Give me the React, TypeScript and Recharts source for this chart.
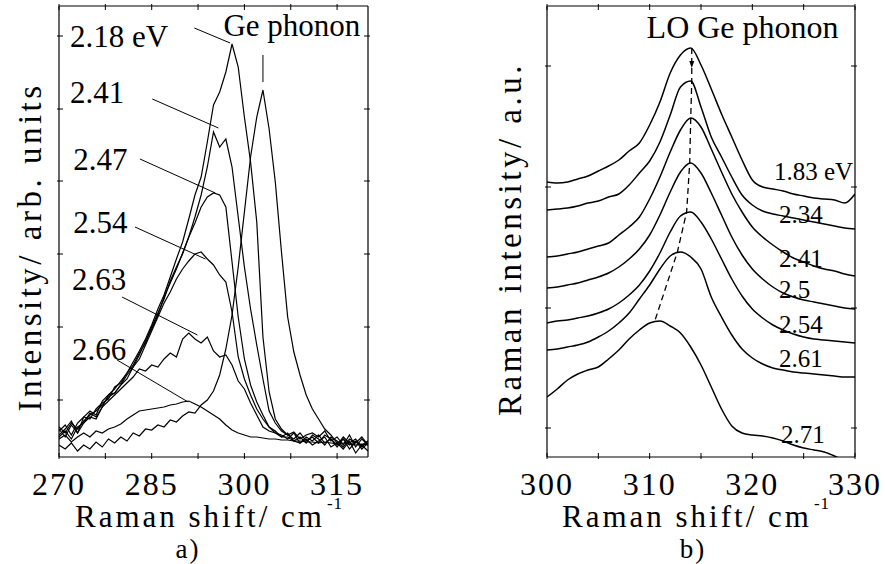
import { LineChart, Line, XAxis, YAxis, ReferenceLine, ReferenceDot } from "recharts";

const FONT = "'Liberation Serif', 'Times New Roman', serif";

// ---- panel a) : Raman shift (cm-1) vs intensity (arb. units)
const shiftA = [270, 271, 272, 273, 274, 275, 276, 277, 278, 279, 280, 281, 282, 283, 284, 285, 286, 287, 288, 289, 290, 291, 292, 293, 294, 295, 296, 297, 298, 299, 300, 301, 302, 303, 304, 305, 306, 307, 308, 309, 310, 311, 312, 313, 314, 315, 316, 317, 318, 319, 320];
const i218 = [28, 20, 32, 24, 40, 46, 42, 56, 62, 68, 76, 84, 95, 106, 118, 132, 148, 162, 180, 198, 215, 238, 262, 280, 315, 352, 365, 385, 413, 390, 340, 295, 235, 120, 65, 38, 28, 22, 25, 18, 22, 24, 20, 26, 16, 20, 12, 22, 10, 18, 12];
const i241 = [30, 24, 34, 28, 36, 42, 46, 52, 60, 64, 72, 82, 90, 102, 116, 128, 142, 160, 174, 188, 204, 220, 240, 262, 290, 325, 310, 318, 290, 240, 190, 148, 112, 78, 46, 34, 26, 22, 18, 24, 16, 20, 14, 22, 18, 12, 20, 14, 18, 10, 16];
const i247 = [26, 32, 22, 34, 40, 38, 48, 54, 58, 70, 74, 84, 92, 104, 114, 130, 144, 158, 176, 190, 203, 220, 234, 250, 260, 264, 262, 250, 195, 140, 98, 72, 55, 42, 30, 26, 20, 24, 16, 20, 14, 22, 18, 12, 20, 16, 10, 18, 14, 20, 12];
const i254 = [22, 28, 36, 24, 34, 44, 40, 50, 62, 64, 72, 78, 90, 98, 112, 126, 140, 154, 165, 178, 188, 196, 203, 205, 198, 192, 182, 175, 145, 100, 78, 62, 48, 38, 30, 24, 22, 18, 24, 14, 20, 16, 22, 14, 18, 10, 18, 12, 16, 8, 14];
const i263 = [20, 26, 18, 30, 34, 40, 38, 50, 56, 62, 68, 74, 80, 88, 86, 92, 90, 98, 104, 100, 118, 124, 118, 114, 120, 106, 100, 102, 92, 76, 68, 54, 42, 30, 26, 24, 20, 20, 16, 14, 18, 12, 16, 20, 10, 14, 18, 8, 15, 12, 16];
const i266 = [18, 22, 15, 20, 24, 20, 26, 24, 28, 30, 33, 38, 42, 46, 47, 48, 49, 50, 52, 53, 55, 56, 53, 50, 46, 42, 38, 32, 27, 24, 22, 20, 20, 19, 18, 18, 17, 17, 16, 16, 15, 15, 14, 15, 14, 13, 14, 13, 12, 13, 12];
const iGe = [12, 8, 14, 6, 12, 8, 15, 10, 18, 14, 20, 16, 24, 21, 28, 27, 32, 30, 37, 35, 41, 45, 44, 52, 57, 66, 82, 108, 142, 190, 245, 300, 340, 367, 328, 275, 205, 140, 105, 82, 62, 48, 38, 28, 22, 14, 8, 16, 4, 12, 6];

const ticksAX = [270, 277.5, 285, 292.5, 300, 307.5, 315];
const labelsAX = [270, 285, 300, 315];
const ticksAY = [57, 130, 203, 276, 348, 421];

const notesA = [
  { text: "2.18 eV", x: 271.8, y: 410, from: [291.9, 429], to: [297.7, 414] },
  { text: "2.41", x: 271.8, y: 354, from: [285.1, 358], to: [295.8, 329] },
  { text: "2.47", x: 272.3, y: 287, from: [283.1, 298], to: [295.3, 264] },
  { text: "2.54", x: 272.3, y: 224, from: [282.3, 230], to: [293.7, 198] },
  { text: "2.63", x: 272.1, y: 167, from: [280.2, 160], to: [292.4, 122] },
  { text: "2.66", x: 272.1, y: 97, from: [279.4, 97], to: [290.9, 55] },
];

// ---- panel b) : LO Ge phonon
const shiftB = [300, 301, 302, 303, 304, 305, 306, 307, 308, 309, 310, 311, 312, 313, 314, 315, 316, 317, 318, 319, 320, 321, 322, 323, 324, 325, 326, 327, 328, 329, 330];
const b183 = [275, 274, 275, 278, 281, 286, 291, 297, 306, 314, 332, 355, 384, 402, 409, 392, 368, 343, 320, 297, 277, 270, 268, 266, 263, 261, 259, 258, 257, 254, 263];
const b234 = [247, 248, 249, 251, 254, 256, 260, 263, 272, 284, 296, 315, 342, 370, 376, 350, 320, 300, 280, 262, 252, 246, 243, 241, 239, 237, 235, 233, 231, 229, 228];
const b241 = [200, 201, 203, 205, 208, 211, 214, 222, 230, 240, 258, 280, 305, 327, 339, 330, 308, 285, 263, 245, 230, 220, 212, 205, 199, 195, 191, 188, 186, 183, 181];
const b250 = [169, 170, 172, 174, 177, 180, 184, 190, 198, 208, 222, 242, 265, 285, 294, 284, 264, 242, 220, 202, 188, 178, 170, 164, 160, 157, 155, 153, 151, 149, 148];
const b254 = [134, 136, 137, 139, 141, 144, 148, 154, 162, 172, 186, 204, 225, 241, 245, 235, 218, 198, 178, 161, 148, 139, 132, 127, 123, 120, 118, 117, 116, 115, 114];
const b261 = [107, 108, 110, 112, 115, 120, 126, 134, 144, 158, 172, 188, 201, 205, 200, 188, 160, 140, 122, 108, 99, 93, 89, 87, 85, 84, 83, 82, 81, 80, 80];
const b271 = [60, 68, 77, 83, 87, 90, 98, 107, 118, 127, 134, 136, 131, 124, 110, 92, 70, 48, 31, 24, 22, 21, 19, 16, 12, 9, 7, 5, 1, -4, -8];

const peakShift = [314.1, 314.1, 314.0, 313.9, 313.6, 312.7, 310.5];
const peakHeight = [409, 376, 339, 294, 245, 205, 136];

const ticksBX = [300, 305, 310, 315, 320, 325, 330];
const labelsBX = [300, 310, 320, 330];
const ticksBY = [29, 149, 270, 391];

const notesB = [
  { text: "1.83 eV", x: 322.1, y: 277 },
  { text: "2.34", x: 322.6, y: 234 },
  { text: "2.41", x: 322.6, y: 190 },
  { text: "2.5", x: 322.6, y: 159 },
  { text: "2.54", x: 322.6, y: 124 },
  { text: "2.61", x: 322.6, y: 90 },
  { text: "2.71", x: 322.8, y: 14 },
];

const dataA = shiftA.map((x, i) => ({ x, e218: i218[i], e241: i241[i], e247: i247[i], e254: i254[i], e263: i263[i], e266: i266[i], ge: iGe[i] }));
const dataB = shiftB.map((x, i) => ({ x, b183: b183[i], b234: b234[i], b241: b241[i], b250: b250[i], b254: b254[i], b261: b261[i], b271: b271[i] }));
const peakLine = peakShift.map((x, i) => ({ x, p: peakHeight[i] }));

const TICK = 6;

function BottomTick({ x, y, payload, labels }: any) {
  return (
    <g>
      <line x1={x} x2={x} y1={y} y2={y - TICK} stroke="#000" />
      {labels.includes(payload.value) && (
        <text x={x} y={y + 36} textAnchor="middle" style={{ fontFamily: FONT, fontSize: 32, letterSpacing: 2 }} fill="#000">
          {payload.value}
        </text>
      )}
    </g>
  );
}
const TopTick = ({ x, y }: any) => <line x1={x} x2={x} y1={y} y2={y + TICK} stroke="#000" />;
const LeftTick = ({ x, y }: any) => <line x1={x} x2={x + TICK} y1={y} y2={y} stroke="#000" />;
const RightTick = ({ x, y }: any) => <line x1={x} x2={x - TICK} y1={y} y2={y} stroke="#000" />;

function Note({ viewBox, text, size }: any) {
  return (
    <text x={viewBox.x} y={viewBox.y} style={{ fontFamily: FONT, fontSize: size }} fill="#000">
      {text}
    </text>
  );
}

const axisLine = { stroke: "#000", strokeWidth: 1.2 };

function Frame(domX: number[], domY: number[], ticksX: number[], labelsX: number[], ticksY: number[], w: { l: number; r: number }) {
  return [
    <XAxis key="xb" type="number" dataKey="x" domain={domX} ticks={ticksX} interval={0} allowDataOverflow height={107} tickSize={0} tickLine={false} axisLine={axisLine} tick={<BottomTick labels={labelsX} />} />,
    <XAxis key="xt" xAxisId="top" orientation="top" type="number" dataKey="x" domain={domX} ticks={ticksX} interval={0} allowDataOverflow height={6} tickSize={0} tickLine={false} axisLine={axisLine} tick={<TopTick />} />,
    <YAxis key="yl" type="number" domain={domY} ticks={ticksY} interval={0} allowDataOverflow width={w.l} tickSize={0} tickLine={false} axisLine={axisLine} tick={<LeftTick />} />,
    <YAxis key="yr" yAxisId="right" orientation="right" type="number" domain={domY} ticks={ticksY} interval={0} allowDataOverflow width={w.r} tickSize={0} tickLine={false} axisLine={axisLine} tick={<RightTick />} />,
  ];
}

const seriesA = ["e218", "e241", "e247", "e254", "e263", "e266", "ge"];
const seriesB = ["b183", "b234", "b241", "b250", "b254", "b261", "b271"];

export default function App() {
  const title = { fontFamily: FONT, fontSize: 31, letterSpacing: 3 };
  const ytitle = { fontFamily: FONT, fontSize: 33, letterSpacing: 3.5 };
  const panel = { fontFamily: FONT, fontSize: 27, letterSpacing: 2 };
  return (
    <div style={{ position: "absolute", left: 0, top: 0, width: 885, height: 564, background: "#fff" }}>
      <div style={{ position: "absolute", left: 0, top: 0 }}>
        <LineChart width={440} height={564} data={dataA} margin={{ top: 0, right: 0, bottom: 0, left: 0 }}>
          {Frame([270, 320], [0, 451], ticksAX, labelsAX, ticksAY, { l: 59, r: 72 })}
          {seriesA.map((k) => (
            <Line key={k} dataKey={k} type="linear" stroke="#000" strokeWidth={1.2} dot={false} isAnimationActive={false} />
          ))}
          {notesA.map((n) => (
            <ReferenceLine key={"l" + n.text} segment={[{ x: n.from[0], y: n.from[1] }, { x: n.to[0], y: n.to[1] }]} stroke="#000" strokeWidth={1} />
          ))}
          {notesA.map((n) => (
            <ReferenceDot key={"t" + n.text} x={n.x} y={n.y} r={0} stroke="none" fill="none" label={<Note text={n.text} size={31} />} />
          ))}
          <ReferenceLine segment={[{ x: 303, y: 375 }, { x: 303, y: 402 }]} stroke="#000" strokeWidth={1} />
          <ReferenceDot x={296.6} y={421} r={0} stroke="none" fill="none" label={<Note text="Ge phonon" size={31} />} />
        </LineChart>
      </div>
      <div style={{ position: "absolute", left: 440, top: 0 }}>
        <LineChart width={445} height={564} data={dataB} margin={{ top: 0, right: 0, bottom: 0, left: 0 }}>
          {Frame([300, 330], [0, 451], ticksBX, labelsBX, ticksBY, { l: 107, r: 30 })}
          {seriesB.map((k) => (
            <Line key={k} dataKey={k} type="monotone" stroke="#000" strokeWidth={1.5} dot={false} isAnimationActive={false} />
          ))}
          <Line data={peakLine} dataKey="p" type="linear" stroke="#000" strokeWidth={1.3} strokeDasharray="6 4" dot={false} isAnimationActive={false} />
          <ReferenceDot
            x={peakShift[0]}
            y={389}
            r={3}
            shape={(p: any) => <path d={`M${p.cx - 2.5},${p.cy - 7} L${p.cx + 2.5},${p.cy - 7} L${p.cx},${p.cy} Z`} fill="#000" />}
          />
          {notesB.map((n) => (
            <ReferenceDot key={"t" + n.text} x={n.x} y={n.y} r={0} stroke="none" fill="none" label={<Note text={n.text} size={25} />} />
          ))}
          <ReferenceDot x={309.7} y={419} r={0} stroke="none" fill="none" label={<Note text="LO Ge phonon" size={32} />} />
        </LineChart>
      </div>
      <svg width={885} height={564} style={{ position: "absolute", left: 0, top: 0, pointerEvents: "none" }}>
        <text transform="translate(41,247) rotate(-90)" textAnchor="middle" style={ytitle} fill="#000">
          Intensity/ arb. units
        </text>
        <text x={75} y={527} style={title} fill="#000">
          Raman shift/ cm
          <tspan dx={2} dy={-18} style={{ fontSize: 17, letterSpacing: 1 }}>
            -1
          </tspan>
        </text>
        <text x={188} y={558} textAnchor="middle" style={panel} fill="#000">
          a)
        </text>
        <text transform="translate(521,239) rotate(-90)" textAnchor="middle" style={ytitle} fill="#000">
          Raman intensity/ a.u.
        </text>
        <text x={562} y={527} style={title} fill="#000">
          Raman shift/ cm
          <tspan dx={2} dy={-18} style={{ fontSize: 17, letterSpacing: 1 }}>
            -1
          </tspan>
        </text>
        <text x={693} y={558} textAnchor="middle" style={panel} fill="#000">
          b)
        </text>
      </svg>
    </div>
  );
}
